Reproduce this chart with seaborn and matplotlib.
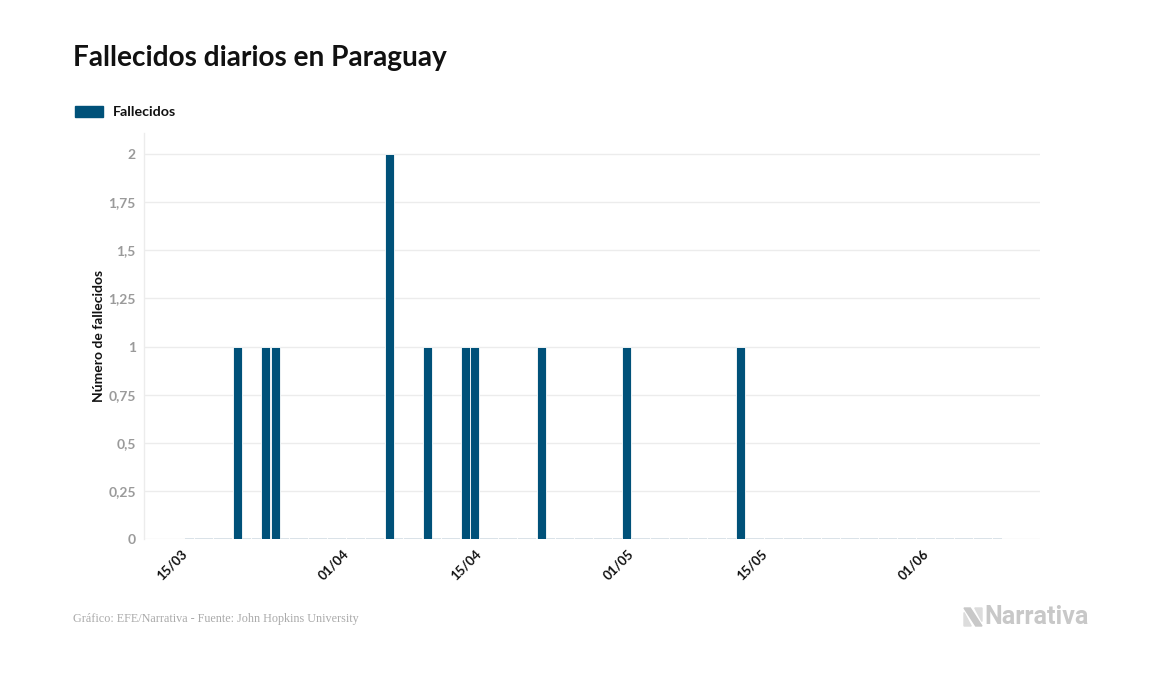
import numpy as np
import pandas as pd
import matplotlib
matplotlib.use("Agg")
import matplotlib.pyplot as plt
import matplotlib.transforms as mtransforms
import seaborn as sns
from matplotlib.patches import Polygon

# ==========================================
# DATA (daily deaths, Paraguay, from 15/03)
# ==========================================
start_date = "2020-03-15"
deaths = [
    0, 0, 0, 0, 0, 1, 0, 0, 1, 1,
    0, 0, 0, 0, 0, 0, 0, 0, 0, 0,
    0, 2, 0, 0, 0, 1, 0, 0, 0, 1,
    1, 0, 0, 0, 0, 0, 0, 1, 0, 0,
    0, 0, 0, 0, 0, 0, 1, 0, 0, 0,
    0, 0, 0, 0, 0, 0, 0, 0, 1, 0,
    0, 0, 0, 0, 0, 0, 0, 0, 0, 0,
    0, 0, 0, 0, 0, 0, 0, 0, 0, 0,
    0, 0, 0, 0, 0, 0,
]
tick_dates = ["15/03", "01/04", "15/04", "01/05", "15/05", "01/06"]
y_ticks = [0, 0.25, 0.5, 0.75, 1, 1.25, 1.5, 1.75, 2]

dates = pd.date_range(start_date, periods=len(deaths), freq="D")
day_labels = [d.strftime("%d/%m") for d in dates]
df = pd.DataFrame({"fecha": day_labels, "fallecidos": deaths})

BAR_COLOR = "#005179"
GRID_COLOR = "#ececec"

sns.set_style("white")
plt.rcParams["font.family"] = ["Lato", "DejaVu Sans"]

fig = plt.figure(figsize=(11.57, 6.74), dpi=100)
ax = fig.add_axes([0.1245, 0.2003, 0.7745, 0.6024])

sns.barplot(data=df, x="fecha", y="fallecidos", order=day_labels,
            color=BAR_COLOR, saturation=1, width=0.96, ax=ax, zorder=3)

# zero days show up as a faint dash on the baseline
for p in ax.patches:
    if p.get_height() == 0:
        p.set_edgecolor("#d4dee5")
        p.set_linewidth(1.2)
    else:
        p.set_edgecolor("white")
        p.set_linewidth(0.6)

ax.set_xlim(-4.8, 89.5)
ax.set_ylim(0, 2.11)

ax.tick_params(axis="both", length=0)
ax.tick_params(axis="x", pad=6)
ax.tick_params(axis="y", pad=6)

ax.set_yticks(y_ticks)
ax.set_yticklabels([f"{v:g}".replace(".", ",") for v in y_ticks],
                   color="#9a9a9a", fontsize=10, fontweight="bold")
ax.yaxis.grid(True, color=GRID_COLOR, linewidth=1, zorder=0)
ax.set_axisbelow(True)

ax.set_xticks([day_labels.index(t) for t in tick_dates])
ax.set_xticklabels(tick_dates, rotation=45, ha="right", va="top",
                   rotation_mode="anchor", fontsize=9.5, fontweight="bold",
                   color="#111111")
shift = mtransforms.ScaledTranslation(-9 / 100, 0, fig.dpi_scale_trans)
for lbl in ax.get_xticklabels():
    lbl.set_transform(lbl.get_transform() + shift)

ax.set_xlabel("")
ax.set_ylabel("Número de fallecidos", fontsize=10, fontweight="bold",
              color="#111111", labelpad=2)

for s in ["top", "right", "bottom"]:
    ax.spines[s].set_visible(False)
ax.spines["left"].set_color(GRID_COLOR)
ax.spines["left"].set_linewidth(1)

# title and legend
fig.text(73 / 1157, 1 - 58 / 674, "Fallecidos diarios en Paraguay",
         fontsize=20.2, fontweight="bold", color="#111111", va="center")
fig.patches.append(plt.Rectangle((75 / 1157, 1 - 117 / 674), 28 / 1157, 11 / 674,
                                 transform=fig.transFigure, color=BAR_COLOR))
fig.text(113 / 1157, 1 - 112 / 674, "Fallecidos", fontsize=10.3,
         fontweight="bold", color="#111111", va="center")

# footer
fig.text(73 / 1157, 1 - 619 / 674,
         "Gráfico: EFE/Narrativa - Fuente: John Hopkins University",
         fontsize=8.75, color="#aaaaaa", va="center",
         family=["Liberation Serif", "DejaVu Serif"])

# Narrativa logo
logo_grey = "#c8c8c8"
x0, y0 = 964 / 1157, 1 - 626 / 674
w, h = 18 / 1157, 18 / 674
fig.patches.append(Polygon([(x0, y0 + h), (x0 + w * 0.35, y0 + h), (x0 + w, y0),
                            (x0 + w * 0.65, y0)], closed=True,
                           transform=fig.transFigure, color=logo_grey))
fig.patches.append(Polygon([(x0, y0), (x0, y0 + h * 0.75), (x0 + w * 0.4, y0)],
                           closed=True, transform=fig.transFigure, color="#dcdcdc"))
fig.patches.append(Polygon([(x0 + w, y0 + h), (x0 + w, y0 + h * 0.25),
                            (x0 + w * 0.6, y0 + h)],
                           closed=True, transform=fig.transFigure, color="#dcdcdc"))
fig.text(984 / 1157, 1 - 617 / 674, "Narrativa", fontsize=18,
         fontweight="bold", color=logo_grey, va="center",
         family=["Roboto", "DejaVu Sans"])

fig.savefig("out.png", dpi=100, facecolor="white")
